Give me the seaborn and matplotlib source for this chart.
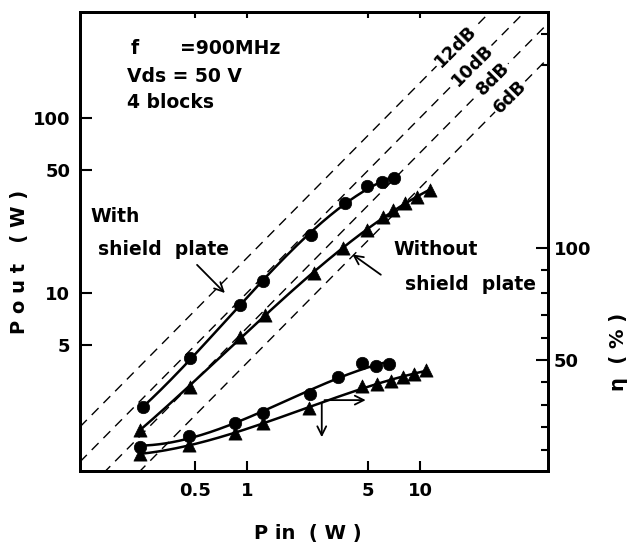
import numpy as np
import pandas as pd
import matplotlib
matplotlib.use("Agg")
import matplotlib.pyplot as plt
from matplotlib.ticker import NullLocator, FixedLocator
import seaborn as sns

# Output power versus input power (W)
pin_with = [0.25, 0.47, 0.91, 1.23, 2.34, 3.69, 4.92, 6.0, 7.07]
pout_with = [2.21, 4.25, 8.5, 11.7, 21.4, 32.7, 40.7, 43.1, 45.1]
pin_without = [0.24, 0.47, 0.91, 1.27, 2.42, 3.57, 4.92, 6.14, 7.0, 8.19, 9.57, 11.4]
pout_without = [1.65, 2.9, 5.6, 7.5, 12.9, 17.9, 22.8, 27.0, 29.7, 32.4, 35.4, 38.6]

# Drain efficiency (%) versus input power (W)
eff_pin_with = [0.24, 0.46, 0.85, 1.23, 2.31, 3.37, 4.6, 5.57, 6.65]
eff_with = [11.3, 16.1, 22.0, 26.5, 34.7, 42.5, 48.8, 47.3, 48.1]
eff_pin_without = [0.24, 0.46, 0.85, 1.23, 2.29, 4.6, 5.67, 6.78, 8.0, 9.23, 10.8]
eff_without = [8.0, 12.1, 17.5, 21.7, 28.4, 38.4, 39.3, 40.8, 42.3, 43.8, 45.5]

# Constant-gain reference lines
gain_db = [12, 10, 8, 6]
gain_labels = ["12dB", "10dB", "8dB", "6dB"]
gain_label_pin = [16.1, 20.0, 26.4, 33.1]

x_ticks = [0.5, 1, 5, 10]
x_ticklabels = ["0.5", "1", "5", "10"]
y_ticks = [5, 10, 50, 100]
y_ticklabels = ["5", "10", "50", "100"]
eff_ticks = [50, 100]
eff_minor = [10, 20, 30, 40, 60, 70, 80, 90]

sns.set_theme(style="white")
plt.rcParams["font.family"] = ["DejaVu Sans"]
plt.rcParams["font.weight"] = "bold"
plt.rcParams["axes.linewidth"] = 2.0
for key in ["text.color", "axes.labelcolor", "xtick.color", "ytick.color",
            "axes.edgecolor"]:
    plt.rcParams[key] = "black"

W, H = 634, 544
fig = plt.figure(figsize=(W / 100, H / 100), dpi=100)
L, R, T, B = 80, 548, 12, 471
ax = fig.add_axes([L / W, 1 - B / H, (R - L) / W, (B - T) / H])
ax.set_xscale("log")
ax.set_yscale("log")
ax.set_xlim(0.108, 54.9)
ax.set_ylim(0.957, 402)


def smooth(x, y, logy, deg=3):
    lx = np.log10(np.asarray(x, float))
    ty = np.log10(np.asarray(y, float)) if logy else np.asarray(y, float)
    c = np.polyfit(lx, ty, deg)
    gx = np.linspace(lx.min(), lx.max(), 200)
    gy = np.polyval(c, gx)
    return pd.DataFrame({"x": 10 ** gx, "y": 10 ** gy if logy else gy})


# gain lines
xs = np.array(ax.get_xlim())
for g, lab, px in zip(gain_db, gain_labels, gain_label_pin):
    ax.plot(xs, xs * 10 ** (g / 10), color="black", lw=1.0,
            ls=(0, (7, 5)), zorder=1)
    ax.text(px, px * 10 ** (g / 10), lab, rotation=45, rotation_mode="anchor",
            ha="center", va="center", fontsize=13, fontweight="bold",
            color="black",
            bbox=dict(boxstyle="square,pad=0.1", fc="white", ec="none"),
            zorder=2)

# output power curves
for x, y, m, s in [(pin_with, pout_with, "o", 80), (pin_without, pout_without, "^", 90)]:
    d = smooth(x, y, True)
    sns.lineplot(data=d, x="x", y="y", ax=ax, color="black", lw=1.8,
                 estimator=None, sort=False, zorder=3)
    sns.scatterplot(x=x, y=y, ax=ax, marker=m, s=s, color="black",
                    edgecolor="black", linewidth=0.5, zorder=4)

ax.set_xticks(x_ticks)
ax.set_xticklabels(x_ticklabels)
ax.set_yticks(y_ticks)
ax.set_yticklabels(y_ticklabels)
ax.xaxis.set_minor_locator(NullLocator())
ax.yaxis.set_minor_locator(NullLocator())
ax.tick_params(axis="x", direction="in", length=7, width=1.5, pad=8,
               labelsize=13, bottom=True, top=False, colors="black")
ax.tick_params(axis="y", direction="in", length=8.5, width=1.5, pad=7,
               labelsize=13, left=True, right=False, colors="black")
for lbl in ax.get_xticklabels() + ax.get_yticklabels():
    lbl.set_fontweight("bold")
ax.set_xlabel("")
ax.set_ylabel("")

top = ax.secondary_xaxis("top")
top.set_xticks(x_ticks)
top.xaxis.set_minor_locator(NullLocator())
top.tick_params(direction="in", length=4, width=1.5, labeltop=False)

# efficiency axis
ax2 = ax.twinx()
ax2.set_ylim(0.45, 205.4)
for x, y, m, s in [(eff_pin_with, eff_with, "o", 80), (eff_pin_without, eff_without, "^", 90)]:
    d = smooth(x, y, False)
    sns.lineplot(data=d, x="x", y="y", ax=ax2, color="black", lw=1.8,
                 estimator=None, sort=False, zorder=3)
    sns.scatterplot(x=x, y=y, ax=ax2, marker=m, s=s, color="black",
                    edgecolor="black", linewidth=0.5, zorder=4)
ax2.set_yticks(eff_ticks)
ax2.set_yticklabels([str(v) for v in eff_ticks])
ax2.yaxis.set_minor_locator(FixedLocator(eff_minor))
ax2.tick_params(axis="y", which="major", direction="in", length=8.5,
                width=1.5, pad=4, labelsize=13, colors="black")
ax2.tick_params(axis="y", which="minor", direction="in", length=5, width=1.5,
                colors="black")
for lbl in ax2.get_yticklabels():
    lbl.set_fontweight("bold")
ax2.set_ylabel("")
ax2.set_xlabel("")

# Pout ticks above the efficiency scale
ax3 = ax.twinx()
ax3.set_yscale("log")
ax3.set_ylim(ax.get_ylim())
ax3.set_yticks([200, 300])
ax3.set_yticklabels([])
ax3.yaxis.set_minor_locator(NullLocator())
ax3.tick_params(axis="y", direction="in", length=5, width=1.5, colors="black")
ax3.grid(False)
ax2.grid(False)
ax.grid(False)

# arrows
arrow = dict(arrowstyle="->", lw=1.3, color="black", mutation_scale=16)
ax.annotate("", xy=(0.763, 9.7), xytext=(0.50, 14.8), arrowprops=arrow)
ax.annotate("", xy=(3.94, 16.9), xytext=(6.11, 12.4), arrowprops=arrow)
ax2.annotate("", xy=(5.03, 32.1), xytext=(2.70, 32.1), arrowprops=arrow)
ax2.annotate("", xy=(2.70, 14.3), xytext=(2.70, 32.1), arrowprops=arrow)


def ftext(x, y, s, **kw):
    kw.setdefault("fontsize", 13.5)
    kw.setdefault("fontweight", "bold")
    kw.setdefault("va", "center")
    kw.setdefault("color", "black")
    fig.text(x / W, 1 - y / H, s, **kw)


ftext(131, 48, "f")
ftext(180, 48, "=900MHz")
ftext(127, 77, "Vds = 50 V")
ftext(127, 102, "4 blocks")
ftext(90, 217, "With")
ftext(98, 250, "shield  plate")
ftext(393, 250, "Without")
ftext(405, 285, "shield  plate")

ftext(308, 533, "P in  ( W )", fontsize=14, ha="center")
ftext(20, 262, "P o u t   ( W )", fontsize=14, ha="center", rotation=90)
ftext(618, 352, "η  ( % )", fontsize=14, ha="center", rotation=90)

fig.savefig("out.png", dpi=100)
